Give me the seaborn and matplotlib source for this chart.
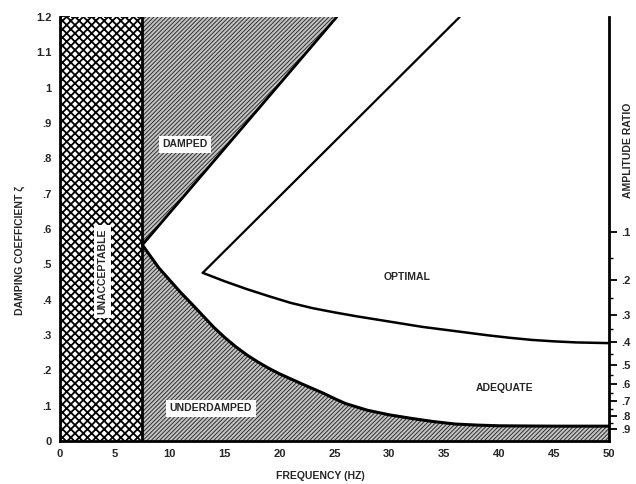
import numpy as np
import pandas as pd
import matplotlib
matplotlib.use("Agg")
import matplotlib.pyplot as plt
import seaborn as sns

# ---- data ----
freq_ticks = [0, 5, 10, 15, 20, 25, 30, 35, 40, 45, 50]
zeta_ticks = [0, 0.1, 0.2, 0.3, 0.4, 0.5, 0.6, 0.7, 0.8, 0.9, 1.0, 1.1, 1.2]
zeta_labels = ["0", ".1", ".2", ".3", ".4", ".5", ".6", ".7", ".8", ".9", "1", "1.1", "1.2"]
amp_ticks = [0.1, 0.2, 0.3, 0.4, 0.5, 0.6, 0.7, 0.8, 0.9]
amp_labels = [".1", ".2", ".3", ".4", ".5", ".6", ".7", ".8", ".9"]
amp_minor = [0.15, 0.25, 0.35, 0.45, 0.55, 0.65, 0.75, 0.85]

unacceptable_freq = 7.5

damped_freq = [7.5, 25.2]
damped_zeta = [0.555, 1.2]

under_freq = [7.5, 9, 10, 11, 12, 13, 14, 15, 16, 17, 18, 19, 20, 22, 24, 25, 26,
              28, 30, 32, 34, 36, 38, 40, 45, 50]
under_zeta = [0.555, 0.49, 0.455, 0.42, 0.388, 0.355, 0.322, 0.293, 0.267, 0.244,
              0.224, 0.206, 0.19, 0.162, 0.135, 0.12, 0.106, 0.087, 0.074, 0.064,
              0.055, 0.048, 0.045, 0.043, 0.042, 0.042]

opt_low_freq = [13, 15, 17, 19, 21, 23, 25, 27, 29, 31, 33, 35, 37, 39, 41, 43,
                45, 47, 50]
opt_low_zeta = [0.476, 0.452, 0.430, 0.410, 0.391, 0.376, 0.364, 0.353, 0.343,
                0.333, 0.323, 0.315, 0.307, 0.299, 0.292, 0.286, 0.282, 0.279, 0.277]

opt_up_freq = [13.0, 36.4]
opt_up_zeta = [0.476, 1.2]


def amp_to_zeta(a):
    la = np.log(a)
    return -la / np.sqrt(np.pi ** 2 + la ** 2)


sns.set_theme(style="white")
plt.rcParams["font.family"] = ["Liberation Sans", "DejaVu Sans"]
plt.rcParams["font.weight"] = "bold"

W, H = 636, 484
fig = plt.figure(figsize=(W / 100, H / 100), dpi=100)
x0, x1, y0, y1 = 60, 609, 441, 17
ax = fig.add_axes([x0 / W, 1 - y0 / H, (x1 - x0) / W, (y0 - y1) / H])
ax.set_xlim(0, 50)
ax.set_ylim(0, 1.2)

# unacceptable zone (cross hatch)
plt.rcParams["hatch.linewidth"] = 1.3
ax.fill_between([0, unacceptable_freq], 0, 1.2, facecolor="white",
                edgecolor="black", hatch="xxxx", linewidth=0, zorder=1)

# damped / underdamped zones (grey diagonal hatching)
plt.rcParams["hatch.linewidth"] = 0.7
ax.fill_between(damped_freq, damped_zeta, 1.2, facecolor="#c4c4c4",
                edgecolor="#303030", hatch="////////", linewidth=0, zorder=1)
ax.fill_between(under_freq, 0, under_zeta, facecolor="#c4c4c4",
                edgecolor="#303030", hatch="////////", linewidth=0, zorder=1)

# boundary lines
df_d = pd.DataFrame({"f": damped_freq, "z": damped_zeta})
df_u = pd.DataFrame({"f": under_freq, "z": under_zeta})
df_ol = pd.DataFrame({"f": opt_low_freq, "z": opt_low_zeta})
df_ou = pd.DataFrame({"f": opt_up_freq, "z": opt_up_zeta})
for d, lw in [(df_d, 2.0), (df_u, 2.2), (df_ol, 1.8), (df_ou, 1.6)]:
    sns.lineplot(data=d, x="f", y="z", ax=ax, color="black", lw=lw,
                 sort=False, estimator=None, zorder=3)
ax.axvline(unacceptable_freq, color="black", lw=2.0, zorder=3)
ax.plot([0, unacceptable_freq], [1.2, 1.2], color="black", lw=1.5, ls=":", zorder=3)

# region labels
box = dict(facecolor="white", edgecolor="none", pad=2.5)
tkw = dict(fontsize=7.5, fontweight="bold", ha="center", va="center", zorder=4)
ax.text(11.4, 0.84, "DAMPED", bbox=box, **tkw)
ax.text(3.9, 0.48, "UNACCEPTABLE", rotation=90, bbox=box, **tkw)
ax.text(31.6, 0.464, "OPTIMAL", **tkw)
ax.text(40.5, 0.15, "ADEQUATE", **tkw)
ax.text(13.75, 0.093, "UNDERDAMPED", bbox=box, **tkw)

# axes styling
for s in ["left", "bottom", "right"]:
    ax.spines[s].set_color("black")
    ax.spines[s].set_linewidth(2.0)
ax.spines["top"].set_visible(False)
ax.set_xticks(freq_ticks)
ax.set_xticklabels([str(v) for v in freq_ticks], fontsize=8, fontweight="bold")
ax.set_yticks(zeta_ticks)
ax.set_yticklabels(zeta_labels, fontsize=8, fontweight="bold")
ax.tick_params(axis="x", direction="in", length=4, width=1.5, color="black", pad=6)
ax.tick_params(axis="y", direction="in", left=True, right=True, length=7,
               width=1.3, color="black", pad=6, labelright=False)
ax.set_xlabel("")
ax.set_ylabel("")
ax.grid(False)

# amplitude ratio axis on the right
ax2 = ax.twinx()
ax2.set_ylim(0, 1.2)
ax2.set_yticks([amp_to_zeta(a) for a in amp_ticks])
ax2.set_yticklabels(amp_labels, fontsize=8, fontweight="bold")
ax2.set_yticks([amp_to_zeta(a) for a in amp_minor], minor=True)
ax2.tick_params(axis="y", which="major", direction="out", length=6, width=1.3,
                color="black", pad=3)
ax2.tick_params(axis="y", which="minor", direction="out", length=3, width=1.0,
                color="black")
for s in ax2.spines.values():
    s.set_visible(False)
ax2.grid(False)

# axis titles
fig.text(20 / W, 1 - 250 / H, "DAMPING COEFFICIENT \u03b6", rotation=90,
         ha="center", va="center", fontsize=7.5, fontweight="bold")
fig.text(628 / W, 1 - 150 / H, "AMPLITUDE RATIO", rotation=90,
         ha="center", va="center", fontsize=7.5, fontweight="bold")
fig.text(320 / W, 1 - 476 / H, "FREQUENCY (HZ)", ha="center", va="center",
         fontsize=7.5, fontweight="bold")

fig.savefig("out.png", dpi=100, facecolor="white")
